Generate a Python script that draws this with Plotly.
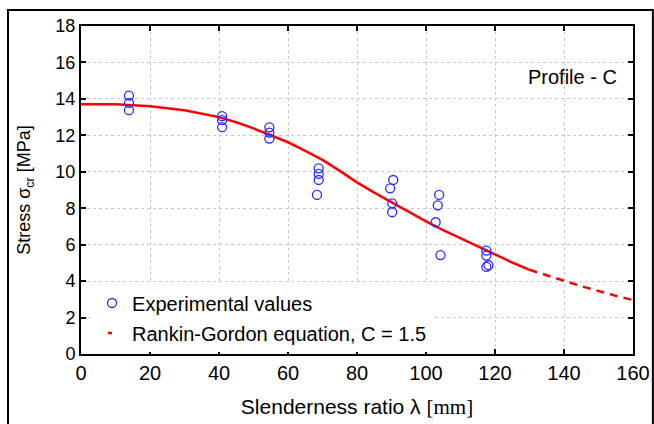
import plotly.graph_objects as go

# Experimental data (slenderness ratio, stress)
exp_x = [13.9, 13.9, 13.9,
         40.9, 40.9, 40.9,
         54.6, 54.6, 54.6,
         68.9, 68.9, 68.9, 68.4,
         90.5, 89.6, 90.2, 90.2,
         103.8, 103.4, 102.8, 104.2,
         117.5, 117.5, 118.1, 117.5]
exp_y = [14.18, 13.78, 13.38,
         13.05, 12.84, 12.45,
         12.44, 12.15, 11.82,
         10.19, 9.88, 9.55, 8.73,
         9.55, 9.09, 8.27, 7.78,
         8.73, 8.16, 7.23, 5.43,
         5.67, 5.40, 4.87, 4.78]

# Rankin-Gordon curve
curve_x_solid = [0, 10, 20, 30, 40, 45, 50, 55, 60, 65, 70, 75, 80, 85, 90, 95, 100, 105, 110, 115, 120, 125, 130]
curve_y_solid = [13.7, 13.7, 13.6, 13.38, 13.0, 12.72, 12.38, 12.02, 11.62, 11.15, 10.65, 10.05, 9.42,
                 8.86, 8.33, 7.8, 7.28, 6.8, 6.35, 5.9, 5.45, 5.02, 4.62]
curve_x_dash = [130, 135, 140, 145, 150, 155, 160]
curve_y_dash = [4.62, 4.3, 4.02, 3.72, 3.45, 3.2, 2.96]

x_ticks = [0, 20, 40, 60, 80, 100, 120, 140, 160]
y_ticks = [0, 2, 4, 6, 8, 10, 12, 14, 16, 18]

FONT = "Arial, Liberation Sans, sans-serif"

fig = go.Figure()
fig.add_trace(go.Scatter(x=curve_x_solid, y=curve_y_solid, mode="lines",
                         line=dict(color="#ff0000", width=2.5),
                         showlegend=False, hoverinfo="skip"))
fig.add_trace(go.Scatter(x=curve_x_dash, y=curve_y_dash, mode="lines",
                         line=dict(color="#ff0000", width=2.5, dash="8px,6px"),
                         showlegend=False, hoverinfo="skip"))
fig.add_trace(go.Scatter(x=exp_x, y=exp_y, mode="markers", name="Experimental values",
                         legendgroup="a",
                         marker=dict(symbol="circle-open", size=9, color="#2a2aff",
                                     line=dict(width=1.3, color="#2a2aff"))))
fig.add_trace(go.Scatter(x=[None], y=[None], mode="lines",
                         name="Rankin-Gordon equation, C = 1.5", legendgroup="b",
                         line=dict(color="#ff0000", width=2.5, dash="0px,11px,4px,100px")))

axis_common = dict(showline=True, linecolor="black", linewidth=2, mirror="ticks",
                   ticks="inside", ticklen=5, tickwidth=1.5, tickcolor="black",
                   showgrid=True, gridcolor="#c8c8c8", griddash="dot", gridwidth=1,
                   zeroline=False, automargin=False)

fig.update_layout(
    width=654, height=424,
    margin=dict(l=81, r=21, t=26, b=70),
    paper_bgcolor="white", plot_bgcolor="white",
    font=dict(family=FONT, color="black"),
    xaxis=dict(range=[0, 160], tickvals=x_ticks, **axis_common,
               tickfont=dict(family=FONT, size=20, color="black"),
               title=dict(text="Slenderness ratio λ <span style='font-family:Liberation Serif, Times New Roman, serif'>[mm]</span>",
                          font=dict(family=FONT, size=21), standoff=16)),
    yaxis=dict(range=[0, 18], tickvals=y_ticks, **axis_common,
               tickfont=dict(family=FONT, size=18, color="black"),
               title=dict(text="Stress σ<sub>cr</sub> [MPa]",
                          font=dict(family=FONT, size=18), standoff=20)),
    legend=dict(x=0.02, y=0.215, xanchor="left", yanchor="top",
                bgcolor="white", borderwidth=0, traceorder="grouped",
                tracegroupgap=1, font=dict(family=FONT, size=20, color="black")),
    annotations=[dict(text="Profile - C", xref="paper", yref="paper",
                      x=0.975, y=0.845, xanchor="right", yanchor="middle",
                      showarrow=False, font=dict(family=FONT, size=20, color="black"))],
    shapes=[dict(type="rect", xref="paper", yref="paper",
                 x0=-0.1322, x1=1.036, y0=-0.22, y1=1.0488,
                 line=dict(color="black", width=2), layer="above")],
)

fig.write_html("out.html", config={"displayModeBar": False},
               post_script="document.body.style.margin='0';document.body.style.padding='0';")
